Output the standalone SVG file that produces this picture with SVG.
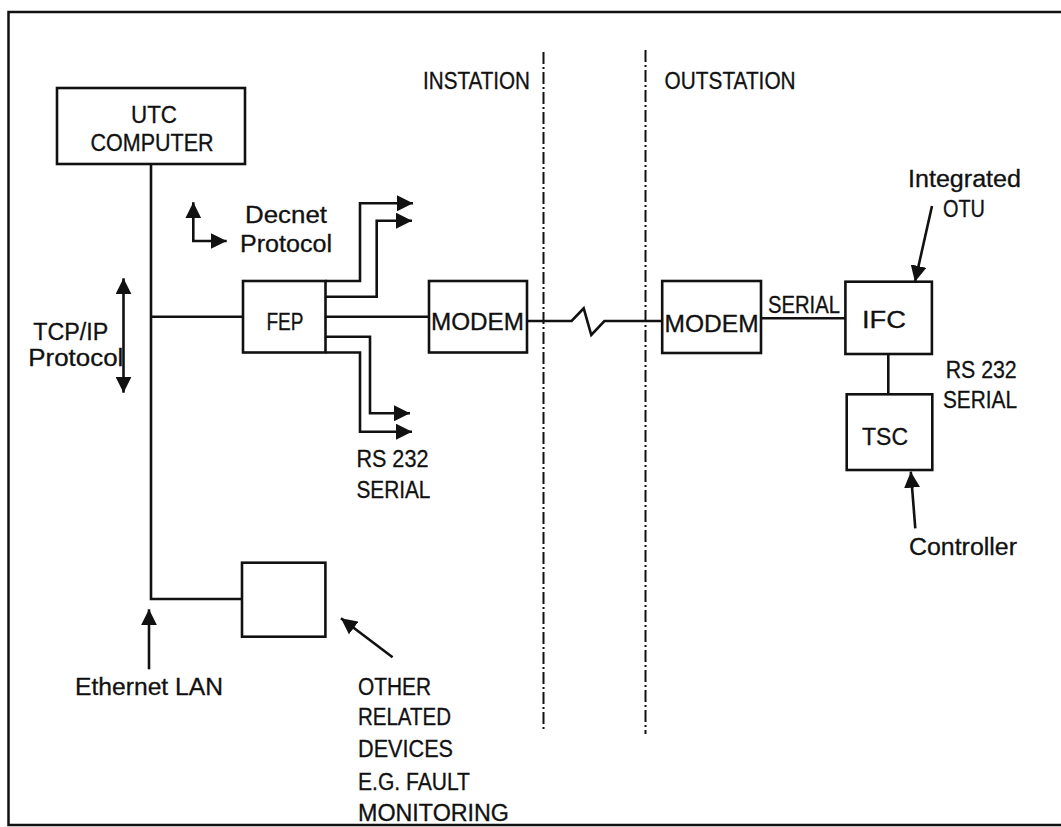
<svg xmlns="http://www.w3.org/2000/svg" width="1061" height="827" viewBox="0 0 1061 827">
<defs>
<style>
.bg{fill:#ffffff}
.frame{fill:none;stroke:#111;stroke-width:2.5}
.box{fill:#fff;stroke:#111;stroke-width:2.6}
.ln{fill:none;stroke:#111;stroke-width:2.6}
.dash{fill:none;stroke:#111;stroke-width:2;stroke-dasharray:12 3 2 3}
.t{font-family:"Liberation Sans",Arial,sans-serif;font-size:23px;fill:#111;stroke:#111;stroke-width:0.3}
.c{text-anchor:middle}
</style>
<marker id="ah" markerUnits="userSpaceOnUse" markerWidth="18" markerHeight="16" refX="16" refY="8" orient="auto">
<path d="M0,0 L16,8 L0,16 Z" fill="#111"/>
</marker>
<marker id="ahs" markerUnits="userSpaceOnUse" markerWidth="18" markerHeight="16" refX="16" refY="8" orient="auto-start-reverse">
<path d="M0,0 L16,8 L0,16 Z" fill="#111"/>
</marker>
</defs>
<rect class="bg" x="0" y="0" width="1061" height="827"/>
<path class="frame" d="M1061,12 H8.5 V825 H1061"/>

<g id="connectors">
<path class="ln" d="M151,164 V599 H242"/>
<path class="ln" d="M151,316.7 H243"/>
<path class="ln" d="M325.5,316.7 H429"/>
<path class="ln" d="M527,321 H571.6 L583.7,308.3 L591.3,335 L604.4,321 H662.2"/>
<path class="ln" d="M761,318.3 H845.4"/>
<path class="ln" d="M888.3,354 V394.3"/>
<path class="ln" d="M325.5,281 H360 V203.3 H413" marker-end="url(#ah)"/>
<path class="ln" d="M325.5,296.7 H376.7 V220.7 H412" marker-end="url(#ah)"/>
<path class="ln" d="M325.5,336.7 H370 V413.3 H410" marker-end="url(#ah)"/>
<path class="ln" d="M325.5,352.5 H360 V431.7 H412" marker-end="url(#ah)"/>
<path class="ln" d="M193.3,202.3 V241 H226.7" marker-start="url(#ahs)" marker-end="url(#ah)"/>
<path class="ln" d="M123.5,278.3 V392.7" marker-start="url(#ahs)" marker-end="url(#ah)"/>
<path class="ln" d="M149,669.3 V609.3" marker-end="url(#ah)"/>
<path class="ln" d="M392.6,657.3 L341,618.3" marker-end="url(#ah)"/>
<path class="ln" d="M932,206 L915,281.7" marker-end="url(#ah)"/>
<path class="ln" d="M915.3,528.3 L910.8,471.7" marker-end="url(#ah)"/>
<path class="dash" d="M543.5,52 V730"/>
<path class="dash" d="M645.5,50 V734"/>
</g>

<g id="utc">
<rect class="box" x="57" y="88" width="188" height="76"/>
<text class="t c" x="154" y="123" textLength="46" lengthAdjust="spacingAndGlyphs">UTC</text>
<text class="t c" x="152" y="150.7" textLength="123" lengthAdjust="spacingAndGlyphs">COMPUTER</text>
</g>
<g id="fep">
<rect class="box" x="243" y="281" width="82.5" height="71.5"/>
<text class="t c" x="285" y="330" textLength="37" lengthAdjust="spacingAndGlyphs">FEP</text>
</g>
<g id="modem1">
<rect class="box" x="429" y="281" width="98" height="71.5"/>
<text class="t c" x="477.5" y="330" textLength="93" lengthAdjust="spacingAndGlyphs">MODEM</text>
</g>
<g id="modem2">
<rect class="box" x="662.2" y="281" width="98.8" height="72"/>
<text class="t c" x="711.6" y="331.7" textLength="94" lengthAdjust="spacingAndGlyphs">MODEM</text>
</g>
<g id="ifc">
<rect class="box" x="845.4" y="281.7" width="86.5" height="72.3"/>
<text class="t c" x="884" y="327.7" textLength="44" lengthAdjust="spacingAndGlyphs">IFC</text>
</g>
<g id="tsc">
<rect class="box" x="846.7" y="394.3" width="85.6" height="75.7"/>
<text class="t c" x="885" y="445" textLength="46" lengthAdjust="spacingAndGlyphs">TSC</text>
</g>
<g id="other">
<rect class="box" x="242" y="562.7" width="83.4" height="74"/>
</g>

<g id="labels">
<text class="t" x="423" y="89" textLength="107" lengthAdjust="spacingAndGlyphs">INSTATION</text>
<text class="t" x="664.6" y="89" textLength="131" lengthAdjust="spacingAndGlyphs">OUTSTATION</text>
<text class="t" x="768" y="313" textLength="72" lengthAdjust="spacingAndGlyphs">SERIAL</text>
<text class="t" x="908" y="187" textLength="113" lengthAdjust="spacingAndGlyphs">Integrated</text>
<text class="t" x="943" y="216.7" textLength="42" lengthAdjust="spacingAndGlyphs">OTU</text>
<text class="t" x="945.7" y="378.3" textLength="71" lengthAdjust="spacingAndGlyphs">RS 232</text>
<text class="t" x="943" y="408.3" textLength="74" lengthAdjust="spacingAndGlyphs">SERIAL</text>
<text class="t" x="909" y="555" textLength="108" lengthAdjust="spacingAndGlyphs">Controller</text>
<text class="t" x="245" y="222.7" textLength="82" lengthAdjust="spacingAndGlyphs">Decnet</text>
<text class="t" x="240" y="251.7" textLength="92" lengthAdjust="spacingAndGlyphs">Protocol</text>
<text class="t" x="356.4" y="466.7" textLength="72" lengthAdjust="spacingAndGlyphs">RS 232</text>
<text class="t" x="356.4" y="498.3" textLength="74" lengthAdjust="spacingAndGlyphs">SERIAL</text>
<text class="t" x="33.3" y="340" textLength="75" lengthAdjust="spacingAndGlyphs">TCP/IP</text>
<text class="t" x="28.3" y="366" textLength="95" lengthAdjust="spacingAndGlyphs">Protocol</text>
<text class="t" x="75" y="695" textLength="148" lengthAdjust="spacingAndGlyphs">Ethernet LAN</text>
<text class="t" x="358" y="695" textLength="73" lengthAdjust="spacingAndGlyphs">OTHER</text>
<text class="t" x="358" y="725" textLength="93" lengthAdjust="spacingAndGlyphs">RELATED</text>
<text class="t" x="358" y="756.7" textLength="95" lengthAdjust="spacingAndGlyphs">DEVICES</text>
<text class="t" x="358" y="790" textLength="112" lengthAdjust="spacingAndGlyphs">E.G. FAULT</text>
<text class="t" x="358" y="820.7" textLength="151" lengthAdjust="spacingAndGlyphs">MONITORING</text>
</g>
</svg>
